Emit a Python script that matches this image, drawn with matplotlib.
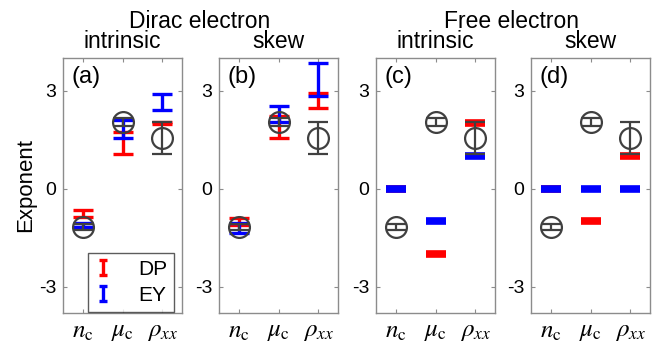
import numpy as np
import matplotlib.pyplot as plt
from matplotlib.container import ErrorbarContainer
from matplotlib.legend_handler import HandlerErrorbar

plt.rcParams['font.family'] = ['Liberation Sans', 'DejaVu Sans']
plt.rcParams['mathtext.fontset'] = 'stix'

# Категории по оси x
categories = [r'$n_\mathrm{c}$', r'$\mu_\mathrm{c}$', r'$\rho_{xx}$']

# Эксперимент (серые кружки), одинаковый во всех панелях
exp_val = [-1.17, 2.05, 1.55]
exp_err = [0.10, 0.12, 0.50]

# Dirac electron, intrinsic
dirac_intr_dp = [-0.75, 1.41, 2.00]
dirac_intr_dp_err = [0.10, 0.34, 0.03]
dirac_intr_ey = [-1.11, 1.83, 2.66]
dirac_intr_ey_err = [0.06, 0.27, 0.24]

# Dirac electron, skew
dirac_skew_dp = [-1.00, 1.90, 2.70]
dirac_skew_dp_err = [0.12, 0.34, 0.24]
dirac_skew_ey = [-1.20, 2.28, 3.35]
dirac_skew_ey_err = [0.15, 0.24, 0.50]

# Free electron (точные значения, без погрешности)
free_intr_dp = [0, -2, 2]
free_intr_ey = [0, -1, 1]
free_skew_dp = [0, -1, 1]
free_skew_ey = [0, 0, 0]

panel_titles = ['intrinsic', 'skew', 'intrinsic', 'skew']
panel_labels = ['(a)', '(b)', '(c)', '(d)']
group_titles = ['Dirac electron', 'Free electron']
legend_labels = ['DP', 'EY']

RED = '#ff0000'
BLUE = '#0000ff'
GRAY = '#404040'
SPINE = '#8c8c8c'

W, H = 662, 352
fig = plt.figure(figsize=(W / 100, H / 100), dpi=100)

lefts = [63, 219, 376, 531]
axes = [fig.add_axes([l / W, 39 / H, 119 / W, 255 / H]) for l in lefts]
x = np.arange(1, 4)


def draw_err(ax, vals, errs, color):
    ax.errorbar(x, vals, yerr=errs, fmt='none', ecolor=color, elinewidth=2.4,
                capsize=7.2, capthick=2.4, zorder=2)


def draw_dash(ax, vals, color):
    ax.plot(x, vals, linestyle='none', marker='_', markersize=14.4,
            markeredgewidth=5.5, color=color, zorder=2)


def draw_exp(ax):
    ax.errorbar(x, exp_val, yerr=exp_err, fmt='o', markersize=15,
                markerfacecolor='none', markeredgecolor=GRAY, markeredgewidth=1.6,
                ecolor=GRAY, elinewidth=1.6, capsize=7.2, capthick=1.6, zorder=3)


draw_err(axes[0], dirac_intr_dp, dirac_intr_dp_err, RED)
draw_err(axes[0], dirac_intr_ey, dirac_intr_ey_err, BLUE)
draw_err(axes[1], dirac_skew_dp, dirac_skew_dp_err, RED)
draw_err(axes[1], dirac_skew_ey, dirac_skew_ey_err, BLUE)
draw_dash(axes[2], free_intr_dp, RED)
draw_dash(axes[2], free_intr_ey, BLUE)
draw_dash(axes[3], free_skew_dp, RED)
draw_dash(axes[3], free_skew_ey, BLUE)

for i, ax in enumerate(axes):
    draw_exp(ax)
    ax.set_xlim(0.5, 3.5)
    ax.set_ylim(-3.8, 4.0)
    ax.set_xticks(x)
    ax.set_xticklabels(categories, fontsize=18)
    ax.set_yticks([-3, 0, 3])
    ax.set_yticklabels(['-3', '0', '3'], fontsize=14)
    ax.tick_params(direction='in', length=3, width=0.8, color=SPINE,
                   top=True, right=True, pad=5)
    ax.tick_params(axis='x', pad=4)
    for s in ax.spines.values():
        s.set_color(SPINE)
        s.set_linewidth(1.0)
    ax.set_title(panel_titles[i], fontsize=16.5, pad=7)
    ax.text(0.07, 0.97, panel_labels[i], transform=ax.transAxes,
            fontsize=17, va='top', ha='left')

axes[0].set_ylabel('Exponent', fontsize=16, labelpad=2)

fig.text(200 / W, 1 - 28 / H, group_titles[0], fontsize=16.5, ha='center', va='baseline')
fig.text(512 / W, 1 - 28 / H, group_titles[1], fontsize=16.5, ha='center', va='baseline')

# Легенда в панели (a): значки с маленькими засечками, вне области графика
handles = [axes[0].errorbar([-10], [0], yerr=[1], fmt='none', ecolor=c,
                            elinewidth=2.4, capsize=3.2, capthick=2.4)
           for c in (RED, BLUE)]
leg = axes[0].legend(handles, legend_labels, loc='lower right',
                     bbox_to_anchor=(0.93, 0.005), borderaxespad=0.0,
                     fontsize=15, frameon=True, fancybox=False,
                     edgecolor='#333333', handlelength=0.8, handleheight=0.9,
                     handletextpad=1.3, borderpad=0.3, labelspacing=0.3,
                     handler_map={ErrorbarContainer: HandlerErrorbar(yerr_size=0.38)})
leg.get_frame().set_linewidth(1.0)

fig.savefig('out.png', dpi=100)
